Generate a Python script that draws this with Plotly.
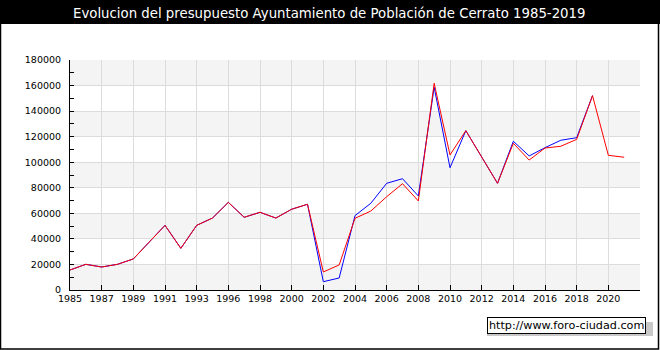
import plotly.graph_objects as go

years = [1985, 1986, 1987, 1988, 1989, 1990, 1991, 1992, 1993, 1995,
         1996, 1997, 1998, 1999, 2000, 2001, 2002, 2003, 2004, 2005,
         2006, 2007, 2008, 2009, 2010, 2011, 2012, 2013, 2014, 2015,
         2016, 2017, 2018, 2019, 2020, 2021]

ingresos = [15650, 20100, 18000, 20100, 24300, 37300, 50600, 32600, 50600, 56300,
            68600, 56900, 60800, 56300, 63200, 67100, 6500, 9400, 58200, 67900,
            83500, 87100, 73600, 158600, 95700, 124700, 104600, 83500, 116400, 104900,
            111400, 117200, 119200, 152100, None, None]

gastos = [15650, 20100, 18000, 20100, 24300, 37300, 50600, 32600, 50600, 56300,
          68600, 56900, 60800, 56300, 63200, 67100, 14100, 19600, 56100, 61800,
          73000, 83200, 69700, 161800, 105700, 124700, 104600, 83500, 114800, 101700,
          111100, 112500, 117900, 152100, 105400, 103900]

y_ticks = list(range(0, 180001, 20000))
title_text = "Evolucion del presupuesto Ayuntamiento de Población de Cerrato 1985-2019"
watermark = "http://www.foro-ciudad.com"

W, H = 660, 350
L, R, T, B = 70, 20, 60, 60
PW, PH = W - L - R, H - T - B


def px(x):
    return (x - L) / PW


def py(y):
    return (H - B - y) / PH


idx = list(range(len(years)))
n_slots = len(years)  # axis spans one slot beyond the last year
tickvals = list(range(0, n_slots + 1, 2))
ticktext = [str(years[i]) if i < len(years) else "" for i in tickvals]

fig = go.Figure()
fig.add_trace(go.Scatter(x=idx, y=ingresos, mode="lines",
                         line=dict(color="#0000ff", width=1), hoverinfo="skip"))
fig.add_trace(go.Scatter(x=idx, y=gastos, mode="lines",
                         line=dict(color="#ff0000", width=1), hoverinfo="skip"))

shapes = []
# alternating bands
for k in range(0, len(y_ticks) - 1):
    if k % 2 == 0:
        shapes.append(dict(type="rect", xref="paper", yref="y", x0=0, x1=1,
                           y0=y_ticks[k], y1=y_ticks[k + 1],
                           fillcolor="#f4f4f4", line=dict(width=0), layer="below"))
# title bar
shapes.append(dict(type="rect", xref="paper", yref="paper",
                   x0=px(0), x1=px(660), y0=py(24), y1=py(0),
                   fillcolor="#000000", line=dict(width=0), layer="above"))
# outer frame
shapes.append(dict(type="rect", xref="paper", yref="paper",
                   x0=px(0.5), x1=px(658.5), y0=py(349), y1=py(0.5),
                   fillcolor="rgba(0,0,0,0)", line=dict(color="#000000", width=1.5), layer="above"))
# watermark shadow
shapes.append(dict(type="rect", xref="paper", yref="paper",
                   x0=px(487), x1=px(653), y0=py(336), y1=py(322),
                   fillcolor="#c8c8c8", line=dict(width=0), layer="above"))

fig.update_layout(
    width=W, height=H,
    margin=dict(l=L, r=R, t=T, b=B),
    paper_bgcolor="#ffffff",
    plot_bgcolor="rgba(0,0,0,0)",
    showlegend=False,
    font=dict(family="DejaVu Sans", size=9.5, color="#000000"),
    shapes=shapes,
    annotations=[
        dict(text=title_text, xref="paper", yref="paper", x=px(329), y=py(13),
             xanchor="center", yanchor="middle", showarrow=False,
             font=dict(family="DejaVu Sans", size=13.3, color="#ffffff")),
        dict(text=watermark, xref="paper", yref="paper", x=px(566.5), y=py(325.5),
             xanchor="center", yanchor="middle", showarrow=False,
             bgcolor="#ffffff", bordercolor="#000000", borderwidth=1, borderpad=1,
             font=dict(family="DejaVu Sans", size=11.2, color="#000000")),
    ],
    xaxis=dict(range=[0, n_slots], tickmode="array", tickvals=tickvals, ticktext=ticktext,
               showgrid=True, gridcolor="#dcdcdc", gridwidth=1,
               showline=True, linecolor="#000000", linewidth=1,
               ticks="inside", ticklen=5, tickcolor="#000000",
               zeroline=False, fixedrange=True),
    yaxis=dict(range=[0, 180000], tickmode="array", tickvals=y_ticks,
               ticktext=[str(v) for v in y_ticks],
               showgrid=True, gridcolor="#dcdcdc", gridwidth=1,
               showline=True, linecolor="#000000", linewidth=1,
               ticks="inside", ticklen=4, tickcolor="#000000",
               minor=dict(dtick=10000, ticks="inside", ticklen=4, tickcolor="#000000", showgrid=False),
               ticklabelstandoff=6,
               zeroline=False, fixedrange=True),
)

fig.write_html("out.html", config={"displayModeBar": False})
